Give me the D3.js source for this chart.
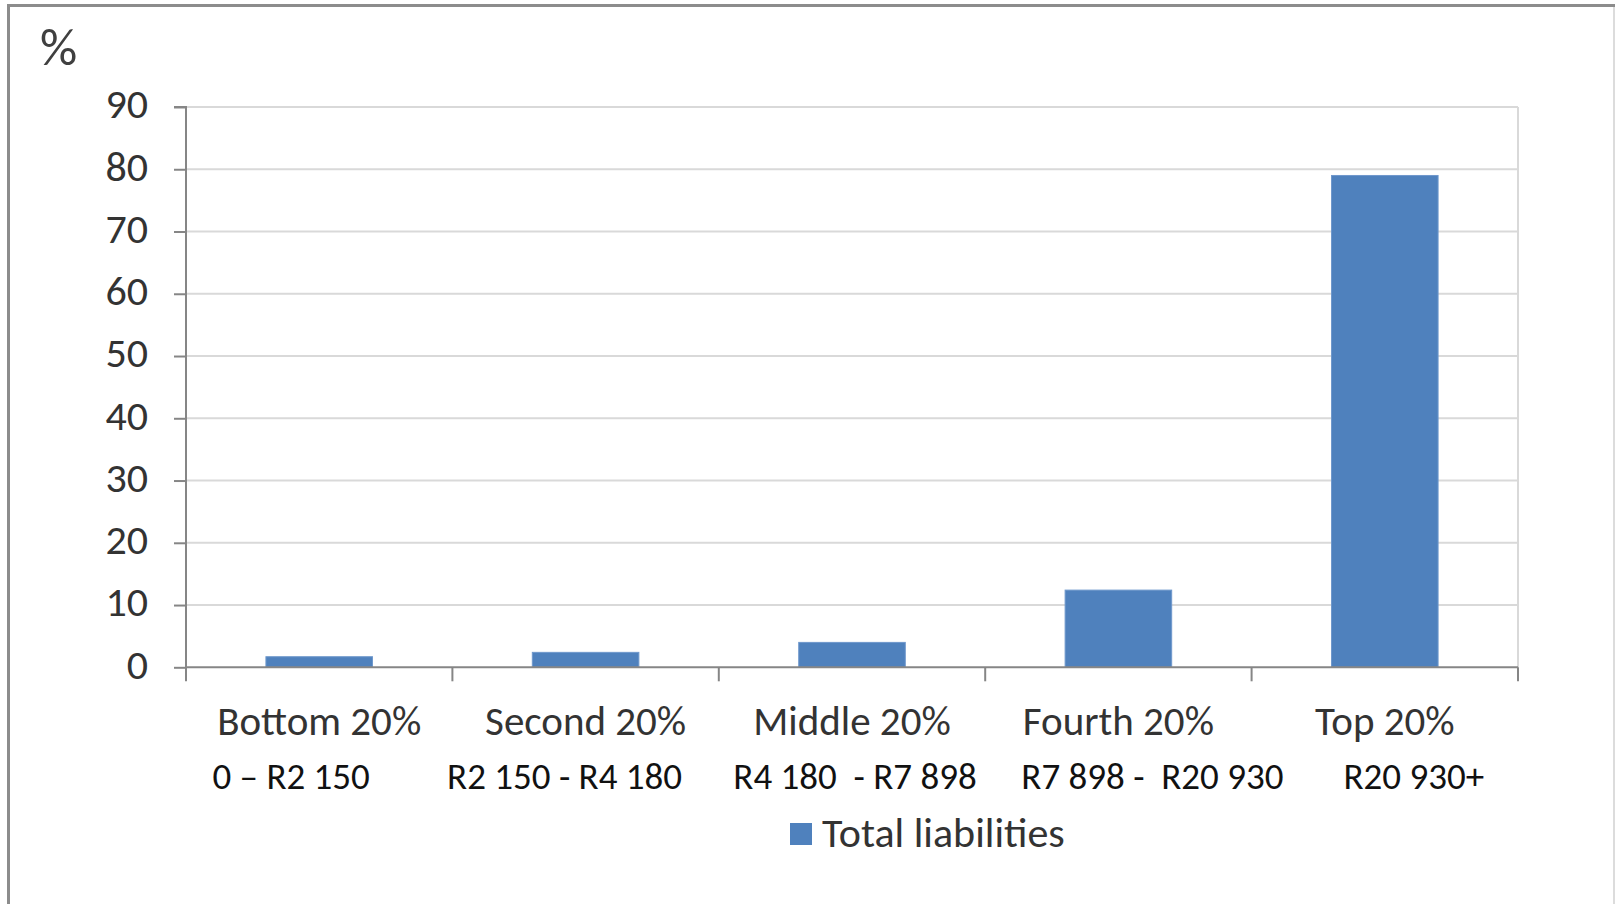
<!DOCTYPE html>
<html>
<head>
<meta charset="utf-8">
<script src="https://cdn.jsdelivr.net/npm/d3@7"></script>
<style>
  html, body { margin: 0; padding: 0; background: #fff; }
  svg { display: block; }
  text { font-family: Carlito, Calibri, Lato, "Open Sans", sans-serif; }
</style>
</head>
<body>
<svg id="chart" width="1615" height="904"></svg>
<script>
// ---- data ----
const categories = ["Bottom 20%", "Second 20%", "Middle 20%", "Fourth 20%", "Top 20%"];
const incomeRanges = ["0 – R2 150", "R2 150 - R4 180", "R4 180  - R7 898", "R7 898 -  R20 930", "R20 930+"];
const totalLiabilities = [1.7, 2.4, 4.0, 12.4, 79.0];
const yTicks = [0, 10, 20, 30, 40, 50, 60, 70, 80, 90];
const seriesName = "Total liabilities";
const unitLabel = "%";

// ---- layout ----
const svg = d3.select("#chart");
const plot = { left: 186, right: 1518, top: 107, bottom: 667.3 };
const rangeNudge = [-28, -21, 3, 34, 29]; // horizontal offsets of second label lines

svg.append("rect").attr("x", 0).attr("y", 0).attr("width", 1615).attr("height", 904).attr("fill", "#fff");
// outer frame
svg.append("line").attr("x1", 8.5).attr("x2", 8.5).attr("y1", 4).attr("y2", 904)
  .attr("stroke", "#8c8c8c").attr("stroke-width", 3);
svg.append("line").attr("x1", 7).attr("x2", 1615).attr("y1", 5.5).attr("y2", 5.5)
  .attr("stroke", "#8c8c8c").attr("stroke-width", 3);
svg.append("line").attr("x1", 1614).attr("x2", 1614).attr("y1", 7).attr("y2", 904)
  .attr("stroke", "#d0d0d0").attr("stroke-width", 1.5);

const x = d3.scaleBand().domain(categories).range([plot.left, plot.right])
  .paddingInner(0.6).paddingOuter(0.3);
const y = d3.scaleLinear().domain([0, 90]).range([plot.bottom, plot.top]);

// gridlines
svg.append("g").selectAll("line").data(yTicks.filter(d => d > 0)).join("line")
  .attr("x1", plot.left).attr("x2", plot.right)
  .attr("y1", d => y(d)).attr("y2", d => y(d))
  .attr("stroke", "#d9d9d9").attr("stroke-width", 2);
// right plot border
svg.append("line").attr("x1", plot.right).attr("x2", plot.right)
  .attr("y1", plot.top).attr("y2", plot.bottom)
  .attr("stroke", "#d9d9d9").attr("stroke-width", 2);

// bars
svg.append("g").selectAll("rect").data(totalLiabilities).join("rect")
  .attr("x", (d, i) => x(categories[i]))
  .attr("width", x.bandwidth())
  .attr("y", d => y(d))
  .attr("height", d => y(0) - y(d))
  .attr("fill", "#4f81bd")
  .attr("stroke", "#6f98cc").attr("stroke-width", 1);

// y axis
const yAxis = d3.axisLeft(y).tickValues(yTicks).tickSize(12).tickPadding(26);
const gy = svg.append("g").attr("transform", `translate(${plot.left},0)`).call(yAxis);
gy.select(".domain").attr("stroke", "#868686").attr("stroke-width", 2).attr("d", `M-12,${plot.top}H0V${plot.bottom}`);
gy.selectAll(".tick line").attr("stroke", "#868686").attr("stroke-width", 2);
gy.selectAll(".tick text").attr("fill", "#333").attr("dy", "0.26em").style("font-size", "42px")
  .style("font-family", 'Carlito, Calibri, Lato, "Open Sans", sans-serif');

// x axis line and ticks at band boundaries
const boundaries = categories.map(c => x(c) - x.step() * x.paddingInner() / 2).concat([plot.right]);
boundaries[0] = plot.left;
svg.append("line").attr("x1", plot.left).attr("x2", plot.right).attr("y1", plot.bottom).attr("y2", plot.bottom)
  .attr("stroke", "#868686").attr("stroke-width", 2);
svg.append("g").selectAll("line").data(boundaries).join("line")
  .attr("x1", d => d).attr("x2", d => d).attr("y1", plot.bottom).attr("y2", plot.bottom + 14)
  .attr("stroke", "#868686").attr("stroke-width", 2);

// category labels
const cx = c => x(c) + x.bandwidth() / 2;
svg.append("g").selectAll("text").data(categories).join("text")
  .attr("x", d => cx(d)).attr("y", 735)
  .attr("text-anchor", "middle").attr("fill", "#333")
  .style("font-size", "41px").text(d => d);
svg.append("g").selectAll("text").data(incomeRanges).join("text")
  .attr("x", (d, i) => cx(categories[i]) + rangeNudge[i]).attr("y", 789)
  .attr("text-anchor", "middle").attr("fill", "#111")
  .style("white-space", "pre")
  .style("font-size", "37px").text(d => d);

// unit label
svg.append("text").attr("x", 40).attr("y", 65).attr("fill", "#404040")
  .style("font-size", "52px").text(unitLabel);

// legend
svg.append("rect").attr("x", 790).attr("y", 823).attr("width", 22).attr("height", 22).attr("fill", "#4f81bd");
svg.append("text").attr("x", 822).attr("y", 847).attr("fill", "#333")
  .style("font-size", "42px").text(seriesName);
</script>
</body>
</html>
